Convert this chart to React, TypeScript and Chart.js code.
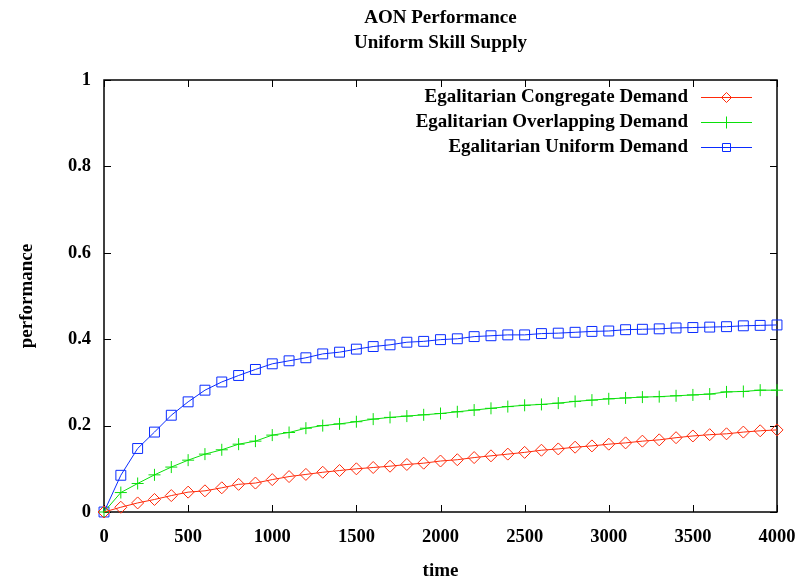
import React, { useEffect, useRef } from "react";
import { Chart, registerables } from "chart.js";

Chart.register(...registerables);

// Simulation time steps
const times = [
  0, 100, 200, 300, 400, 500, 600, 700, 800, 900, 1000, 1100, 1200, 1300, 1400,
  1500, 1600, 1700, 1800, 1900, 2000, 2100, 2200, 2300, 2400, 2500, 2600, 2700,
  2800, 2900, 3000, 3100, 3200, 3300, 3400, 3500, 3600, 3700, 3800, 3900, 4000,
];

// Performance under each demand model
const congregate = [
  0, 0.011, 0.021, 0.029, 0.038, 0.046, 0.049, 0.056, 0.064, 0.067, 0.075, 0.082,
  0.087, 0.092, 0.096, 0.1, 0.103, 0.106, 0.11, 0.113, 0.118, 0.121, 0.126, 0.13,
  0.134, 0.138, 0.143, 0.146, 0.15, 0.153, 0.157, 0.16, 0.164, 0.167, 0.172,
  0.176, 0.179, 0.181, 0.185, 0.188, 0.19,
];
const overlapping = [
  0, 0.045, 0.066, 0.086, 0.104, 0.12, 0.134, 0.144, 0.157, 0.164, 0.178, 0.184,
  0.194, 0.2, 0.204, 0.209, 0.215, 0.219, 0.222, 0.225, 0.228, 0.232, 0.236,
  0.24, 0.244, 0.247, 0.249, 0.252, 0.256, 0.259, 0.262, 0.264, 0.266, 0.267,
  0.269, 0.271, 0.273, 0.278, 0.279, 0.282, 0.282,
];
const uniform = [
  0, 0.085, 0.147, 0.185, 0.224, 0.255, 0.282, 0.301, 0.316, 0.33, 0.343, 0.35,
  0.357, 0.366, 0.37, 0.377, 0.383, 0.387, 0.393, 0.395, 0.399, 0.401, 0.406,
  0.408, 0.41, 0.41, 0.413, 0.414, 0.416, 0.418, 0.419, 0.422, 0.423, 0.424,
  0.426, 0.427, 0.428, 0.429, 0.431, 0.432, 0.433,
];

const seriesNames = [
  "Egalitarian Congregate Demand",
  "Egalitarian Overlapping Demand",
  "Egalitarian Uniform Demand",
];
const seriesColors = ["#ff2a0a", "#0ae00a", "#0a2cff"];
const seriesMarkers = ["rectRot", "cross", "rect"];
const seriesRadius = [6, 6, 7];

const titleLines = ["AON Performance", "Uniform Skill Supply"];
const xTitle = "time";
const yTitle = "performance";

const FONT = '"Liberation Serif", "Times New Roman", serif';

function drawMarker(ctx, style, x, y, color) {
  ctx.save();
  ctx.strokeStyle = color;
  ctx.lineWidth = 1;
  ctx.beginPath();
  if (style === "rectRot") {
    ctx.moveTo(x - 5, y);
    ctx.lineTo(x, y - 5);
    ctx.lineTo(x + 5, y);
    ctx.lineTo(x, y + 5);
    ctx.closePath();
  } else if (style === "cross") {
    ctx.moveTo(x - 5, y);
    ctx.lineTo(x + 5, y);
    ctx.moveTo(x, y - 6);
    ctx.lineTo(x, y + 6);
  } else {
    ctx.rect(x - 4, y - 4, 8, 8);
  }
  ctx.stroke();
  ctx.restore();
}

const decorations = {
  id: "decorations",
  beforeDatasetsDraw(chart) {
    const { ctx, chartArea: a, scales } = chart;
    ctx.save();
    ctx.strokeStyle = "#000";
    ctx.lineWidth = 1.5;
    ctx.strokeRect(a.left, a.top, a.right - a.left, a.bottom - a.top);
    ctx.lineWidth = 1;
    const tl = 7;
    ctx.beginPath();
    scales.x.ticks.forEach((t) => {
      const px = Math.round(scales.x.getPixelForValue(t.value)) + 0.5;
      ctx.moveTo(px, a.bottom);
      ctx.lineTo(px, a.bottom - tl);
      ctx.moveTo(px, a.top);
      ctx.lineTo(px, a.top + tl);
    });
    scales.y.ticks.forEach((t) => {
      const py = Math.round(scales.y.getPixelForValue(t.value)) + 0.5;
      ctx.moveTo(a.left, py);
      ctx.lineTo(a.left + tl, py);
      ctx.moveTo(a.right, py);
      ctx.lineTo(a.right - tl, py);
    });
    ctx.stroke();
    ctx.restore();
  },
  afterDraw(chart) {
    const { ctx, chartArea: a } = chart;
    const cx = (a.left + a.right) / 2;
    ctx.save();
    ctx.fillStyle = "#000";
    ctx.font = `bold 19px ${FONT}`;
    ctx.textAlign = "center";
    ctx.textBaseline = "middle";
    ctx.fillText(titleLines[0], cx, 18);
    ctx.fillText(titleLines[1], cx, 43);
    ctx.fillText(xTitle, cx, 571);
    ctx.save();
    ctx.translate(27, (a.top + a.bottom) / 2);
    ctx.rotate(-Math.PI / 2);
    ctx.fillText(yTitle, 0, 0);
    ctx.restore();

    // key in the upper right corner
    const rows = [97, 122, 147];
    seriesNames.forEach((name, i) => {
      const y = rows[i];
      ctx.textAlign = "right";
      ctx.fillStyle = "#000";
      ctx.fillText(name, 688, y);
      ctx.strokeStyle = seriesColors[i];
      ctx.lineWidth = 1;
      ctx.beginPath();
      ctx.moveTo(701, y + 0.5);
      ctx.lineTo(752, y + 0.5);
      ctx.stroke();
      drawMarker(ctx, seriesMarkers[i], 726.5, y + 0.5, seriesColors[i]);
    });
    ctx.restore();
  },
};

export default function App() {
  const canvasRef = useRef(null);

  useEffect(() => {
    const seriesValues = [congregate, overlapping, uniform];
    const chart = new Chart(canvasRef.current, {
      type: "line",
      data: {
        datasets: seriesValues.map((vals, i) => ({
          label: seriesNames[i],
          data: times.map((t, j) => ({ x: t, y: vals[j] })),
          borderColor: seriesColors[i],
          backgroundColor: "transparent",
          borderWidth: 1,
          pointStyle: seriesMarkers[i],
          pointRadius: seriesRadius[i],
          pointBorderWidth: 1,
          pointBorderColor: seriesColors[i],
          pointBackgroundColor: "transparent",
          tension: 0,
          clip: false,
        })),
      },
      options: {
        animation: false,
        responsive: true,
        maintainAspectRatio: false,
        layout: { padding: { top: 80, right: 21, left: 0, bottom: 0 } },
        plugins: {
          legend: { display: false },
          title: { display: false },
          tooltip: { enabled: false },
        },
        scales: {
          x: {
            type: "linear",
            min: 0,
            max: 4000,
            grid: { display: false, drawTicks: false },
            border: { display: false },
            ticks: {
              stepSize: 500,
              color: "#000",
              padding: 14,
              maxRotation: 0,
              font: { family: FONT, size: 18.5, weight: "bold" },
              callback: (v) => String(v),
            },
            afterFit(scale) {
              scale.height = 70;
              scale.paddingLeft = 0;
              scale.paddingRight = 0;
            },
          },
          y: {
            min: 0,
            max: 1,
            grid: { display: false, drawTicks: false },
            border: { display: false },
            ticks: {
              stepSize: 0.2,
              color: "#000",
              padding: 13,
              font: { family: FONT, size: 18.5, weight: "bold" },
              callback: (v) => String(Number(Number(v).toFixed(1))),
            },
            afterFit(scale) {
              scale.width = 104;
              scale.paddingTop = 0;
              scale.paddingBottom = 0;
            },
          },
        },
      },
      plugins: [decorations],
    });
    return () => chart.destroy();
  }, []);

  return (
    <div
      style={{
        position: "absolute",
        left: 0,
        top: 0,
        width: 798,
        height: 582,
        background: "#fff",
      }}
    >
      <canvas ref={canvasRef} />
    </div>
  );
}
